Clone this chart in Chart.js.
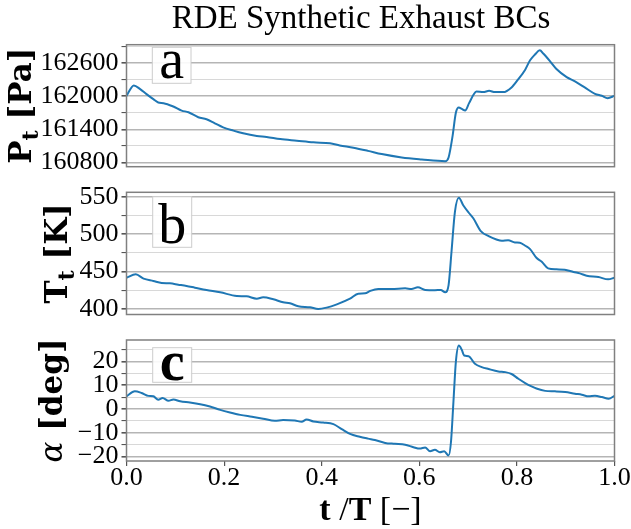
<!DOCTYPE html>
<html>
<head>
<meta charset="utf-8">
<script src="https://cdn.jsdelivr.net/npm/chart.js@4/dist/chart.umd.min.js"></script>
<style>
  html, body { margin: 0; padding: 0; background: #fff; overflow: hidden; }
  #wrap { position: relative; width: 631px; height: 529px; }
  canvas { position: absolute; left: 0; }
</style>
</head>
<body>
<div id="wrap">
  <canvas id="ca" width="631" height="180" style="top:0px"></canvas>
  <canvas id="cb" width="631" height="140" style="top:180px"></canvas>
  <canvas id="cc" width="631" height="209" style="top:320px"></canvas>
</div>
<script>
// total pressure [Pa]
const tPt = [0.000, 0.015, 0.028, 0.041, 0.055, 0.065, 0.076, 0.096, 0.113, 0.127, 0.147, 0.164, 0.181, 0.198, 0.219, 0.239, 0.267, 0.287, 0.315, 0.349, 0.383, 0.417, 0.437, 0.465, 0.495, 0.523, 0.564, 0.605, 0.653, 0.660, 0.668, 0.675, 0.681, 0.687, 0.694, 0.702, 0.711, 0.717, 0.731, 0.743, 0.755, 0.772, 0.789, 0.803, 0.817, 0.827, 0.837, 0.847, 0.854, 0.868, 0.881, 0.902, 0.919, 0.939, 0.960, 0.974, 0.986, 1.000]
const pt = [162006, 162194, 162127, 162036, 161945, 161885, 161873, 161812, 161739, 161709, 161618, 161582, 161509, 161436, 161376, 161327, 161279, 161261, 161224, 161194, 161164, 161146, 161109, 161067, 161010, 160952, 160891, 160855, 160824, 160891, 161267, 161703, 161794, 161770, 161740, 161873, 162024, 162085, 162073, 162097, 162073, 162073, 162158, 162309, 162479, 162648, 162752, 162830, 162770, 162630, 162491, 162345, 162267, 162158, 162042, 162006, 161964, 162006]

// total temperature [K]
const tTt = [0.000, 0.019, 0.035, 0.055, 0.072, 0.089, 0.106, 0.123, 0.140, 0.164, 0.192, 0.226, 0.246, 0.267, 0.280, 0.301, 0.321, 0.335, 0.352, 0.376, 0.393, 0.410, 0.431, 0.458, 0.475, 0.489, 0.499, 0.516, 0.543, 0.571, 0.584, 0.597, 0.612, 0.632, 0.644, 0.653, 0.660, 0.666, 0.673, 0.681, 0.690, 0.701, 0.711, 0.726, 0.742, 0.758, 0.769, 0.782, 0.796, 0.806, 0.817, 0.827, 0.840, 0.851, 0.864, 0.881, 0.898, 0.916, 0.929, 0.943, 0.967, 0.987, 1.000]
const tt = [441.8, 446.3, 440.5, 437.4, 434.7, 434.3, 432.5, 430.7, 428.5, 425.4, 422.3, 417.4, 416.9, 413.8, 415.6, 412.9, 408.9, 407.6, 403.6, 402.2, 400.0, 401.8, 406.2, 413.8, 420.5, 420.9, 424.0, 426.7, 426.7, 427.6, 426.7, 428.9, 425.4, 425.0, 425.4, 422.3, 432.0, 476.6, 530.0, 548.7, 538.9, 529.1, 521.1, 504.2, 497.5, 493.0, 491.2, 492.1, 489.0, 488.6, 484.6, 480.1, 468.5, 463.2, 454.3, 453.0, 452.5, 449.4, 447.6, 444.5, 442.7, 439.6, 441.8]

// flow angle [deg]
const tAlpha = [0.000, 0.017, 0.031, 0.045, 0.055, 0.065, 0.074, 0.086, 0.096, 0.110, 0.130, 0.151, 0.171, 0.192, 0.212, 0.233, 0.257, 0.280, 0.304, 0.321, 0.345, 0.359, 0.369, 0.383, 0.403, 0.424, 0.441, 0.458, 0.478, 0.495, 0.509, 0.530, 0.550, 0.571, 0.588, 0.601, 0.612, 0.622, 0.632, 0.642, 0.651, 0.660, 0.665, 0.670, 0.675, 0.681, 0.687, 0.692, 0.701, 0.714, 0.728, 0.742, 0.762, 0.776, 0.789, 0.803, 0.817, 0.830, 0.840, 0.858, 0.878, 0.899, 0.919, 0.933, 0.947, 0.960, 0.974, 0.988, 1.000]
const alpha = [5.3, 7.4, 6.7, 5.5, 5.3, 3.9, 4.6, 3.4, 4.0, 3.2, 2.7, 2.0, 1.0, -0.4, -1.5, -2.5, -3.3, -4.1, -5.0, -4.7, -4.9, -5.4, -4.4, -5.3, -5.7, -6.4, -8.5, -10.5, -11.7, -12.5, -13.1, -14.3, -14.7, -15.1, -16.1, -16.7, -16.2, -17.8, -17.2, -18.2, -17.8, -19.6, -13.7, 3.2, 20.0, 26.7, 24.9, 22.5, 22.2, 19.0, 17.6, 16.8, 15.8, 15.5, 14.7, 12.7, 10.9, 9.5, 8.6, 7.6, 7.4, 7.1, 6.4, 6.0, 5.3, 5.5, 5.0, 4.3, 5.5]

// labelled ticks (grid also at half steps)
const ptTicks = [160800, 161400, 162000, 162600]
const ttTicks = [400, 450, 500, 550]
const alphaTicks = [-20, -10, 0, 10, 20]
const xTicks = [0, 0.2, 0.4, 0.6, 0.8, 1.0]

const serif = '"Liberation Serif", "DejaVu Serif", serif'
const wide = '"DejaVu Serif", serif'
const AXIS_W = 126.5

const fmt = v => v < 0 ? '\u2212' + Math.abs(v) : String(v)

function autoRange(vals) {
  const lo = Math.min(...vals), hi = Math.max(...vals)
  const m = (hi - lo) * 0.05
  return [lo - m, hi + m]
}

function drawSegs(ctx, segs, x, y, rotate) {
  ctx.save()
  ctx.translate(x, y)
  if (rotate) ctx.rotate(-Math.PI / 2)
  let total = 0
  segs.forEach(s => { ctx.font = s.font; s.w = ctx.measureText(s.text).width; total += s.w })
  let cx = -total / 2
  ctx.textAlign = 'left'
  ctx.textBaseline = 'alphabetic'
  ctx.fillStyle = '#000'
  segs.forEach(s => { ctx.font = s.font; ctx.fillText(s.text, cx, s.dy || 0); cx += s.w })
  ctx.restore()
}

const decor = (o) => ({
  id: 'decor',
  afterDraw: (chart) => {
    const {ctx} = chart
    const {left, right, top, bottom} = chart.chartArea
    ctx.save()
    ctx.strokeStyle = '#808080'
    ctx.lineWidth = 1.5
    ctx.strokeRect(left, top, right - left, bottom - top)

    // panel letter box
    const b = o.box
    ctx.fillStyle = 'rgba(255,255,255,0.9)'
    ctx.fillRect(left + b.x, top + b.y, b.w, b.h)
    ctx.strokeStyle = '#cccccc'
    ctx.lineWidth = 1
    ctx.strokeRect(left + b.x, top + b.y, b.w, b.h)
    ctx.fillStyle = '#000'
    ctx.font = (o.bold ? '600 ' : '') + '56px ' + serif
    ctx.textAlign = 'center'
    ctx.textBaseline = 'alphabetic'
    ctx.fillText(o.letter, left + b.x + b.w / 2, top + b.base)
    ctx.restore()

    drawSegs(ctx, o.ylabel, o.ylabelX, (top + bottom) / 2, true)
    if (o.title) drawSegs(ctx, o.title, 361, 28, false)
    if (o.xlabel) drawSegs(ctx, o.xlabel, (left + right) / 2, 200, false)
  }
})

function panel(id, xs, ys, labelled, step, padding, showX, o) {
  const [lo, hi] = autoRange(ys)
  const isMajor = v => labelled.some(m => Math.abs(m - v) < 1e-9)
  return new Chart(document.getElementById(id), {
    type: 'line',
    data: {
      datasets: [{
        data: xs.map((x, i) => ({x, y: ys[i]})),
        borderColor: '#1f77b4',
        borderWidth: 2,
        pointRadius: 0,
        cubicInterpolationMode: 'monotone',
        fill: false
      }]
    },
    options: {
      responsive: false,
      animation: false,
      events: [],
      layout: {padding},
      plugins: {legend: {display: false}, tooltip: {enabled: false}},
      scales: {
        x: {
          type: 'linear',
          min: 0,
          max: 1,
          display: showX,
          border: {display: false},
          grid: {drawOnChartArea: false, tickLength: 5, tickColor: '#555', lineWidth: 1.2},
          afterBuildTicks: axis => { axis.ticks = xTicks.map(value => ({value})) },
          ticks: {
            font: {family: serif, size: 26},
            color: '#000',
            padding: -3,
            maxRotation: 0,
            autoSkip: false,
            callback: v => v.toFixed(1)
          },
          afterFit: scale => {
            if (showX) scale.height = 68
            scale.paddingLeft = 0
            scale.paddingRight = 0
          }
        },
        y: {
          min: lo,
          max: hi,
          border: {display: false},
          afterBuildTicks: axis => {
            const vals = []
            for (let v = Math.ceil(lo / step) * step; v <= hi; v += step) vals.push(Math.round(v * 1000) / 1000)
            axis.ticks = vals.map(value => ({value}))
          },
          grid: {
            color: c => c.tick && isMajor(c.tick.value) ? '#b5b5b5' : '#d8d8d8',
            lineWidth: c => c.tick && isMajor(c.tick.value) ? 1.6 : 1.1,
            tickColor: '#555',
            tickLength: 5
          },
          ticks: {
            font: {family: serif, size: 26},
            color: '#000',
            padding: 3,
            autoSkip: false,
            callback: v => isMajor(v) ? fmt(v) : ''
          },
          afterFit: scale => { scale.width = AXIS_W; scale.paddingTop = 0; scale.paddingBottom = 0 }
        }
      }
    },
    plugins: [decor(o)]
  })
}

const boldY = 'bold 31px ' + wide
const subY = 'bold 22px ' + wide

panel('ca', tPt, pt, ptTicks, 300, {top: 44.7, bottom: 13.3, left: 0, right: 16.5}, false, {
  letter: 'a', bold: false,
  box: {x: 25.8, y: 2.6, w: 38.7, h: 36, base: 33.3},
  ylabel: [{text: 'P', font: boldY}, {text: 't', font: subY, dy: 7}, {text: ' [Pa]', font: boldY}],
  ylabelX: 31,
  title: [{text: 'RDE Synthetic Exhaust BCs', font: '33px ' + serif}]
})

panel('cb', tTt, tt, ttTicks, 25, {top: 12.3, bottom: 5.5, left: 0, right: 16.5}, false, {
  letter: 'b', bold: false,
  box: {x: 26.2, y: 4.4, w: 39, h: 50.6, base: 50.7},
  ylabel: [{text: 'T', font: boldY}, {text: 't', font: subY, dy: 7}, {text: ' [K]', font: boldY}],
  ylabelX: 67
})

panel('cc', tAlpha, alpha, alphaTicks, 5, {top: 20, bottom: 0, left: 0, right: 16.5}, true, {
  letter: 'c', bold: true,
  box: {x: 26.2, y: 7.7, w: 39, h: 34.6, base: 40},
  ylabel: [{text: '\u03b1', font: 'italic 31px ' + wide}, {text: ' [deg]', font: boldY}],
  ylabelX: 62,
  xlabel: [{text: 't', font: 'bold 34px ' + serif}, {text: ' /', font: '34px ' + serif}, {text: 'T', font: 'bold 34px ' + serif}, {text: ' [\u2212]', font: '34px ' + serif}]
})
</script>
</body>
</html>
